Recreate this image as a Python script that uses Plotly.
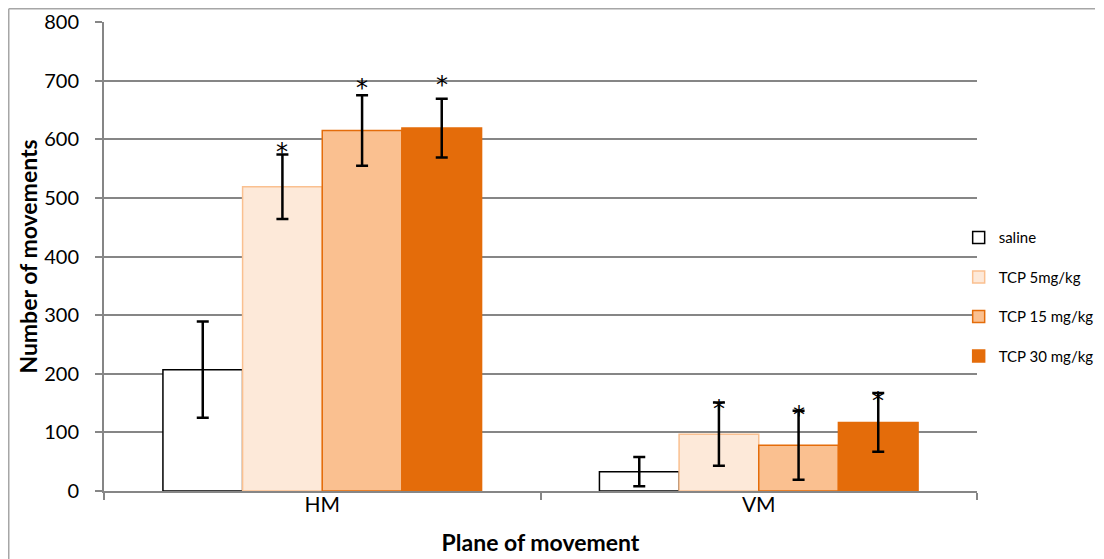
import plotly.graph_objects as go

categories = ["HM", "VM"]
series_names = ["saline", "TCP 5mg/kg", "TCP 15 mg/kg", "TCP 30 mg/kg"]
saline = [207, 33]
tcp5 = [519, 97]
tcp15 = [615, 78]
tcp30 = [619, 117]
saline_err = [82, 25]
tcp5_err = [55, 54]
tcp15_err = [60, 59]
tcp30_err = [50, 50]
# asterisk (significance) positions, None = no mark
saline_star = [None, None]
tcp5_star = [587, 148]
tcp15_star = [696, 139]
tcp30_star = [701, 162]

values = [saline, tcp5, tcp15, tcp30]
errors = [saline_err, tcp5_err, tcp15_err, tcp30_err]
stars = [saline_star, tcp5_star, tcp15_star, tcp30_star]
fills = ["#FFFFFF", "#FDE9D9", "#FAC090", "#E46C0A"]
borders = ["#000000", "#FAC090", "#E46C0A", "#E46C0A"]

FONT = "Lato"
W, H = 1096, 551
L, R, T, B = 96, 127, 14, 68
PW, PH = W - L - R, H - T - B

fig = go.Figure()
for i, name in enumerate(series_names):
    fig.add_trace(go.Bar(
        name=name, x=categories, y=values[i],
        marker=dict(color=fills[i], line=dict(color=borders[i], width=1.5)),
        error_y=dict(type="data", array=errors[i], visible=True,
                     color="black", thickness=2.5, width=6),
        legendgroup=name,
    ))

n = len(series_names)
bargap = 0.27
bw = (1 - bargap) / n
for i in range(n):
    for j, cat in enumerate(categories):
        sy = stars[i][j]
        if sy is None:
            continue
        xoff = -(1 - bargap) / 2 + bw * (i + 0.5)
        fig.add_annotation(
            x=j + xoff, y=sy, xref="x", yref="y", text="*", showarrow=False,
            font=dict(family="DejaVu Sans", size=24, color="black"),
            yanchor="middle", yshift=-5,
        )

fig.update_layout(
    width=W, height=H,
    margin=dict(l=L, r=R, t=T, b=B, autoexpand=False),
    paper_bgcolor="white", plot_bgcolor="white",
    barmode="group", bargap=bargap, bargroupgap=0,
    font=dict(family=FONT, color="black"),
    legend=dict(x=0.979, y=0.575, xanchor="left", yanchor="top",
                font=dict(family=FONT, size=15), traceorder="grouped",
                tracegroupgap=17, itemwidth=30, bgcolor="rgba(0,0,0,0)"),
    showlegend=True,
)
fig.update_xaxes(
    type="category", range=[-0.5, 1.5], automargin=False,
    showline=True, linecolor="#868686", linewidth=2,
    ticks="outside", tickson="boundaries", ticklen=7, tickcolor="#868686", tickwidth=1.5,
    tickfont=dict(family=FONT, size=21), ticklabelstandoff=-6,
    title=dict(text="<b>Plane of movement</b>", font=dict(family=FONT, size=23), standoff=20),
    showgrid=False,
)
fig.update_yaxes(
    range=[0, 800], dtick=100, automargin=False,
    showline=True, linecolor="#868686", linewidth=2,
    ticks="outside", ticklen=7, tickcolor="#868686", tickwidth=1.5,
    showgrid=True, gridcolor="#868686", gridwidth=1.5,
    tickfont=dict(family=FONT, size=20), ticklabelstandoff=12,
    title=dict(text="<b>Number of movements</b>", font=dict(family=FONT, size=23), standoff=0),
    zeroline=False,
)

# outer chart border (top and left visible)
bx = (0.75 - L) / PW
by = (H - B - 0.75) / PH
fig.add_shape(type="line", xref="paper", yref="paper", x0=bx, x1=(1087 - L) / PW, y0=by, y1=by,
              line=dict(color="#A6A6A6", width=1.5))
fig.add_shape(type="line", xref="paper", yref="paper", x0=bx, x1=bx, y0=by, y1=-B / PH,
              line=dict(color="#A6A6A6", width=1.5))

fig.write_html("out.html")
